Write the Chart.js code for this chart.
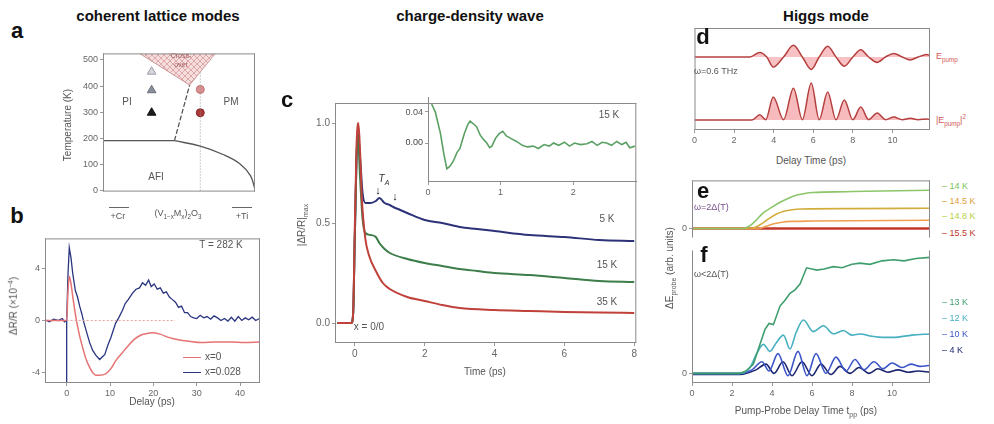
<!DOCTYPE html>
<html>
<head>
<meta charset="utf-8">
<script src="https://cdn.jsdelivr.net/npm/chart.js@4.4.1/dist/chart.umd.min.js"></script>
<style>
  body { margin: 0; width: 994px; height: 424px; background: #fff; position: relative; overflow: hidden;
         font-family: "Liberation Sans", Arial, sans-serif; }
  canvas { position: absolute; }
  .t { position: absolute; white-space: nowrap; color: #555; font-size: 10px; line-height: 1; transform: translate(-50%, -50%); z-index: 5; }
  .l { transform: translate(0, -50%); }
  .rt { transform: translate(-100%, -50%); }
  .r { transform: translate(-50%, -50%) rotate(-90deg); }
  .h { font-weight: bold; color: #111; font-size: 15px; }
  .p { font-weight: bold; color: #111; font-size: 22px; }
  .s { font-size: 9px; }
  .ln { position: absolute; height: 0; }
  sub, sup { font-size: 70%; }
</style>
</head>
<body>
<canvas id="chartA"></canvas>
<canvas id="chartB"></canvas>
<canvas id="chartC"></canvas>
<canvas id="chartInset"></canvas>
<canvas id="chartD"></canvas>
<canvas id="chartE"></canvas>
<canvas id="chartF"></canvas>

<!-- titles and panel letters -->
<div class="t h" style="left:158px;top:15px">coherent lattice modes</div>
<div class="t h" style="left:470px;top:15px">charge-density wave</div>
<div class="t h" style="left:826px;top:15px">Higgs mode</div>
<div class="t p" style="left:17px;top:31px">a</div>
<div class="t p" style="left:17px;top:216px">b</div>
<div class="t p" style="left:287px;top:100px">c</div>
<div class="t p" style="left:703px;top:37px">d</div>
<div class="t p" style="left:703px;top:191px">e</div>
<div class="t p" style="left:704px;top:255px">f</div>

<!-- panel a -->
<div class="t r" style="left:68px;top:125px">Temperature (K)</div>
<div class="t" style="left:127px;top:102px">PI</div>
<div class="t" style="left:231px;top:102px">PM</div>
<div class="t" style="left:156px;top:177px">AFI</div>
<div class="t" style="left:181px;top:55px;font-size:7px;color:#a06060">Cross-</div>
<div class="t" style="left:181px;top:64px;font-size:7px;color:#a06060">over</div>
<div class="ln" style="left:109px;top:207px;width:20px;border-top:1.5px solid #666"></div>
<div class="ln" style="left:232px;top:207px;width:20px;border-top:1.5px solid #666"></div>
<div class="t s" style="left:118px;top:216px">+Cr</div>
<div class="t s" style="left:178px;top:215px">(V<sub>1−x</sub>M<sub>x</sub>)<sub>2</sub>O<sub>3</sub></div>
<div class="t s" style="left:242px;top:216px">+Ti</div>

<!-- panel b -->
<div class="t r" style="left:13px;top:306px">ΔR/R (×10<sup>−4</sup>)</div>
<div class="t" style="left:221px;top:245px">T = 282 K</div>
<div class="ln" style="left:183px;top:357px;width:18px;border-top:1.5px solid #e57373"></div>
<div class="ln" style="left:183px;top:372px;width:18px;border-top:1.5px solid #2a3580"></div>
<div class="t l" style="left:205px;top:357px">x=0</div>
<div class="t l" style="left:205px;top:372px">x=0.028</div>
<div class="t" style="left:152px;top:402px">Delay (ps)</div>

<!-- panel c -->
<div class="t r" style="left:303px;top:225px">|ΔR/R|<sub>max</sub></div>
<div class="t" style="left:485px;top:372px">Time (ps)</div>
<div class="t" style="left:607px;top:219px">5 K</div>
<div class="t" style="left:607px;top:265px">15 K</div>
<div class="t" style="left:607px;top:302px">35 K</div>
<div class="t" style="left:609px;top:115px">15 K</div>
<div class="t" style="left:369px;top:327px">x = 0/0</div>
<div class="t" style="left:384px;top:180px;font-style:italic;color:#333">T<sub>A</sub></div>
<div class="t" style="left:378px;top:190px;color:#111;font-size:11px">↓</div>
<div class="t" style="left:395px;top:196px;color:#111;font-size:11px">↓</div>
<div class="t rt s" style="left:423px;top:112px">0.04</div>
<div class="t rt s" style="left:423px;top:142px;color:#444">0.00</div>

<!-- panel d -->
<div class="t l s" style="left:694px;top:71px">ω=0.6 THz</div>
<div class="t l s" style="left:936px;top:58px;color:#d05a5a">E<sub>pump</sub></div>
<div class="t l s" style="left:936px;top:121px;color:#d05a5a">|E<sub>pump</sub>|<sup>2</sup></div>
<div class="t" style="left:811px;top:161px">Delay Time (ps)</div>

<!-- panel e / f -->
<div class="t r" style="left:671px;top:268px">ΔE<sub>probe</sub> (arb. units)</div>
<div class="t l s" style="left:694px;top:207px;color:#7a4f8c">ω=2Δ(T)</div>
<div class="t l s" style="left:694px;top:274px;color:#555">ω&lt;2Δ(T)</div>
<div class="t l s" style="left:942px;top:186px;color:#7cbf5a">– 14 K</div>
<div class="t l s" style="left:942px;top:201px;color:#e0a040">– 14.5 K</div>
<div class="t l s" style="left:942px;top:216px;color:#b8cf48">– 14.8 K</div>
<div class="t l s" style="left:942px;top:233px;color:#c0392b">– 15.5 K</div>
<div class="t l s" style="left:942px;top:302px;color:#3f9e6e">– 13 K</div>
<div class="t l s" style="left:942px;top:318px;color:#46b0c0">– 12 K</div>
<div class="t l s" style="left:942px;top:334px;color:#3c56c8">– 10 K</div>
<div class="t l s" style="left:942px;top:350px;color:#1c2670">– 4 K</div>
<div class="t" style="left:806px;top:412px">Pump-Probe Delay Time t<sub>pp</sub> (ps)</div>

<script>
// ---------- panel a: phase diagram ----------
const aTempTicks = [0, 100, 200, 300, 400, 500];
const afiTop = [[0, 191], [0.47, 191]];
const piPm = [[0.47, 191], [0.57, 404]];
const afiPm = [[0.47, 191], [0.64, 170], [0.79, 138], [0.9, 103], [0.97, 57], [1.0, 4]];
const crossOver = [[0.24, 525], [0.57, 404], [0.74, 525]];
const dopingLine = [[0.64, 0], [0.64, 525]];
const triangles = [[0.32, 455], [0.32, 384], [0.32, 298]];
const circles = [[0.64, 387], [0.64, 298]];

// ---------- panel b: dR/R vs delay ----------
const bTicksX = [0, 10, 20, 30, 40];
const bTicksY = [-4, 0, 4];
const bPure = [[-5, 0], [-0.2, 0], [0, 0], [0.3, 2.2], [0.6, 3.4], [1.0, 2.8], [1.5, 1.6], [2.2, 0.1], [3.0, -1.2],
  [3.7, -2.1], [4.5, -3.0], [5.3, -3.6], [6.0, -4.0], [6.7, -4.2], [7.5, -4.2], [9.0, -4.1], [10.2, -3.7],
  [11.3, -3.1], [12.8, -2.5], [14.3, -1.9], [15.8, -1.4], [17.3, -1.1], [18.5, -1.0], [19.7, -0.95],
  [21.5, -1.05], [23.5, -1.3], [26, -1.5], [28.2, -1.6], [31, -1.7], [34.4, -1.65], [38, -1.65], [41, -1.7], [44.5, -1.65]];
const bDoped = [[-5, 0.05], [-4, -0.1], [-3, 0.1], [-2, 0.0], [-1, 0.15], [-0.5, -0.1], [0, 0], [0.3, 3.5], [0.6, 5.6],
  [1.0, 4.8], [1.4, 3.6], [2.0, 2.3], [2.5, 1.8], [3.0, 1.1], [3.5, 0.5], [4.0, -0.2], [4.6, -0.9], [5.3, -1.7],
  [6.0, -2.3], [6.8, -2.7], [7.6, -3.0], [8.2, -2.8], [8.8, -2.6], [9.5, -1.9], [10.2, -1.3], [10.6, -0.9],
  [11.3, -0.2], [12.0, 0.2], [12.9, 0.8], [13.5, 1.3], [14.2, 1.6], [15.2, 2.1], [16.0, 2.4], [16.8, 2.5],
  [17.5, 2.9], [18.2, 2.7], [18.9, 3.1], [19.5, 2.6], [20.2, 2.8], [20.9, 2.4], [21.6, 2.5], [22.3, 2.1],
  [23.0, 2.2], [23.7, 1.8], [24.4, 1.6], [25.1, 1.4], [25.8, 1.0], [26.5, 1.1], [27.2, 0.6], [27.9, 0.6],
  [28.6, 0.3], [29.3, 0.2], [30.0, 0.15], [30.8, 0.4], [31.6, 0.2], [32.4, 0.3], [33.2, 0.1], [34.0, 0.35],
  [34.8, 0.2], [35.6, 0.0], [36.4, 0.15], [37.2, -0.05], [38.0, 0.25], [38.8, -0.05], [39.6, 0.3], [40.4, 0.0],
  [41.2, 0.2], [42.0, 0.05], [42.8, 0.25], [43.6, 0.0], [44.5, 0.15]];
const bPumpMark = [[0, -4.8], [0, 0]];
const bZero = [[0, 0], [25, 0]];

// ---------- panel c: CDW ----------
const cTicksX = [0, 2, 4, 6, 8];
const cTicksY = [0, 0.5, 1.0];
const c5K = [[-0.5, 0], [-0.1, 0], [-0.05, 0.05], [0, 0.45], [0.08, 0.95], [0.15, 0.82], [0.22, 0.65], [0.3, 0.6],
  [0.45, 0.6], [0.6, 0.61], [0.7, 0.625], [0.85, 0.6], [1.0, 0.59], [1.1, 0.58], [1.3, 0.565], [1.5, 0.55],
  [2, 0.515], [2.5, 0.5], [3, 0.48], [3.5, 0.47], [4, 0.46], [5, 0.44], [6, 0.43], [7, 0.415], [8, 0.41]];
const c15K = [[-0.5, 0], [-0.1, 0], [-0.05, 0.05], [0, 0.45], [0.08, 0.95], [0.15, 0.72], [0.22, 0.52], [0.3, 0.45],
  [0.45, 0.44], [0.6, 0.43], [0.7, 0.4], [0.85, 0.37], [1.0, 0.35], [1.5, 0.32], [2, 0.3], [2.5, 0.285],
  [3, 0.27], [3.5, 0.26], [4, 0.25], [5, 0.24], [6, 0.225], [7, 0.21], [8, 0.205]];
const c35K = [[-0.5, 0], [-0.1, 0], [-0.05, 0.05], [0, 0.5], [0.05, 0.9], [0.1, 1.0], [0.15, 0.85], [0.2, 0.62],
  [0.3, 0.42], [0.4, 0.34], [0.6, 0.26], [0.8, 0.2], [1.0, 0.17], [1.5, 0.13], [2, 0.11], [2.5, 0.09],
  [3, 0.075], [4, 0.065], [5, 0.06], [6, 0.055], [7, 0.052], [8, 0.05]];
const insetTicksX = [0, 1, 2];
const insetTicksY = [0, 0.04];
const inset15K = [[0.05, 0.05], [0.1, 0.04], [0.17, 0.013], [0.22, -0.015], [0.26, -0.033], [0.3, -0.03],
  [0.35, -0.023], [0.4, -0.012], [0.44, -0.007], [0.5, 0.012], [0.55, 0.024], [0.58, 0.028], [0.62, 0.025],
  [0.67, 0.021], [0.72, 0.01], [0.77, 0.004], [0.81, 0.0], [0.85, -0.006], [0.88, -0.004], [0.93, 0.006],
  [0.98, 0.012], [1.03, 0.015], [1.08, 0.009], [1.14, 0.006], [1.22, 0.002], [1.3, -0.003], [1.37, -0.005],
  [1.45, -0.004], [1.52, -0.007], [1.6, -0.002], [1.67, -0.004], [1.73, 0.0], [1.8, -0.003], [1.88, 0.001],
  [1.95, -0.004], [2.02, 0.0], [2.1, -0.002], [2.19, -0.001], [2.26, 0.002], [2.33, -0.003], [2.4, 0.001],
  [2.46, 0.0], [2.53, -0.003], [2.6, 0.002], [2.67, -0.002], [2.73, 0.001], [2.78, -0.006], [2.85, -0.004]];

// ---------- panel d: pump field ----------
const dTicksX = [0, 2, 4, 6, 8, 10];
const dField = [[0, 0], [2.8, 0], [3.3, 0.37], [3.65, 0], [3.98, -0.8], [4.5, 0], [5.0, 0.93], [5.45, 0],
  [5.9, -1.0], [6.3, 0], [6.73, 0.87], [7.15, 0], [7.57, -0.74], [8.0, 0], [8.4, 0.59], [8.8, 0], [9.23, -0.43],
  [9.65, 0], [10.07, 0.28], [10.5, 0], [10.9, -0.23], [11.3, 0], [11.73, 0.2], [11.9, 0.12]];
const dIntensity = [[0, 0], [2.9, 0], [3.3, 0.14], [3.6, 0.01], [3.98, 0.62], [4.5, 0.01], [5.0, 0.86], [5.45, 0.01],
  [5.9, 1.0], [6.3, 0.01], [6.73, 0.76], [7.15, 0.01], [7.57, 0.54], [8.0, 0.01], [8.4, 0.35], [8.8, 0.01],
  [9.23, 0.19], [9.65, 0.01], [10.07, 0.08], [10.5, 0.01], [10.9, 0.05], [11.3, 0.01], [11.73, 0.03], [11.9, 0.01]];

// ---------- panel e: omega = 2 Delta ----------
const e14K = [[0, 0], [2.5, 0], [3.0, 0.12], [3.55, 0.41], [4.0, 0.57], [4.4, 0.7], [4.8, 0.8], [5.25, 0.89],
  [5.7, 0.94], [6.05, 0.96], [7.7, 0.98], [9.5, 1.0], [11.9, 1.02]];
const e145K = [[0, 0], [2.9, 0], [3.4, 0.1], [3.8, 0.25], [4.2, 0.38], [4.6, 0.46], [5.0, 0.5], [5.5, 0.52], [8, 0.53], [11.9, 0.54]];
const e148K = [[0, 0], [3.3, 0], [3.7, 0.06], [4.1, 0.13], [4.5, 0.17], [5.0, 0.19], [6, 0.2], [11.9, 0.22]];
const e155K = [[0, 0], [11.9, 0]];

// ---------- panel f: omega < 2 Delta ----------
const fTicksX = [0, 2, 4, 6, 8, 10];
const f13K = [[0, 0], [2.4, 0], [2.7, 0.02], [3.07, 0.08], [3.4, 0.25], [3.65, 0.38], [3.85, 0.43], [4.07, 0.42],
  [4.4, 0.58], [4.65, 0.63], [4.9, 0.69], [5.15, 0.72], [5.4, 0.77], [5.73, 0.91], [6.0, 0.9], [6.23, 0.89],
  [6.6, 0.9], [7.07, 0.92], [7.5, 0.91], [8.0, 0.94], [8.4, 0.95], [8.9, 0.94], [9.5, 0.97], [10.07, 0.98],
  [10.6, 0.97], [11.2, 0.99], [11.9, 1.0]];
const f12K = [[0, 0], [2.4, 0], [2.9, 0.05], [3.23, 0.17], [3.57, 0.25], [3.9, 0.19], [4.2, 0.26], [4.57, 0.33],
  [4.9, 0.21], [5.2, 0.35], [5.57, 0.46], [6.07, 0.36], [6.57, 0.41], [7.07, 0.34], [7.57, 0.37], [8.0, 0.33],
  [8.4, 0.34], [9.0, 0.32], [9.6, 0.31], [10.07, 0.31], [11.0, 0.33], [11.9, 0.34]];
const f10K = [[0, 0], [2.4, 0], [3.0, 0.03], [3.5, 0.1], [3.85, 0.02], [4.3, 0.17], [4.8, -0.02], [5.3, 0.19],
  [5.75, -0.02], [6.2, 0.17], [6.7, 0.0], [7.2, 0.14], [7.7, 0.02], [8.15, 0.12], [8.6, 0.03], [9.1, 0.1],
  [9.55, 0.04], [10.0, 0.09], [10.5, 0.05], [10.95, 0.08], [11.4, 0.06], [11.9, 0.07]];
const f4K = [[0, -0.01], [2.4, -0.01], [3.2, 0.03], [3.7, 0.08], [4.1, 0.0], [4.55, 0.1], [5.0, -0.02], [5.5, 0.1],
  [6.0, -0.02], [6.45, 0.08], [6.95, -0.01], [7.4, 0.06], [7.9, 0.0], [8.35, 0.05], [8.85, 0.0], [9.3, 0.04],
  [9.8, 0.01], [10.3, 0.03], [10.8, 0.01], [11.3, 0.02], [11.9, 0.01]];

// ---------- helpers ----------
Chart.defaults.font.family = '"Liberation Sans", Arial, sans-serif';
Chart.defaults.font.size = 9;
Chart.defaults.color = '#666';

const pts = arr => arr.map(p => ({ x: p[0], y: p[1] }));

const frame = {
  id: 'frame',
  afterDraw(chart, args, o) {
    const ctx = chart.ctx, a = chart.chartArea;
    const s = o.sides || 'tlbr';
    ctx.save();
    ctx.strokeStyle = o.color || '#8a8a8a';
    ctx.lineWidth = 1;
    ctx.beginPath();
    if (s.includes('t')) { ctx.moveTo(a.left, a.top + 0.5); ctx.lineTo(a.right, a.top + 0.5); }
    if (s.includes('b')) { ctx.moveTo(a.left, a.bottom - 0.5); ctx.lineTo(a.right, a.bottom - 0.5); }
    if (s.includes('l')) { ctx.moveTo(a.left + 0.5, a.top); ctx.lineTo(a.left + 0.5, a.bottom); }
    if (s.includes('r')) { ctx.moveTo(a.right - 0.5, a.top); ctx.lineTo(a.right - 0.5, a.bottom); }
    ctx.stroke();
    ctx.restore();
  }
};

function fixedTicks(list, fmt) {
  return {
    afterBuildTicks: s => { s.ticks = list.map(v => ({ value: v })); },
    ticks: { callback: v => fmt ? fmt(v) : String(v), padding: 2, autoSkip: false },
    grid: { drawOnChartArea: false, tickLength: 3, color: '#999' },
    border: { display: false }
  };
}

function noTicks() {
  return { ticks: { display: false }, grid: { display: false }, border: { display: false } };
}

// box = [left, top, width, height] of plot area, yw/xh = space kept for axes
function makeChart(id, box, yw, xh, datasets, scales, sides) {
  const [L, T, W, H] = box;
  const pt = 2, pr = 2;
  const cv = document.getElementById(id);
  cv.width = W + yw + pr;
  cv.height = H + xh + pt;
  cv.style.left = (L - yw) + 'px';
  cv.style.top = (T - pt) + 'px';
  scales.x.afterFit = s => { s.height = xh; };
  scales.y.afterFit = s => { s.width = yw; };
  return new Chart(cv, {
    type: 'line',
    data: { datasets: datasets },
    options: {
      responsive: false,
      animation: false,
      layout: { padding: { top: pt, right: pr, left: 0, bottom: 0 }, autoPadding: false },
      plugins: { legend: { display: false }, tooltip: { enabled: false }, frame: { sides: sides } },
      elements: { point: { radius: 0 } },
      scales: scales
    },
    plugins: [frame]
  });
}

function line(data, color, width, extra) {
  return Object.assign({ data: pts(data), borderColor: color, borderWidth: width, pointRadius: 0, fill: false }, extra || {});
}

function hatch() {
  const p = document.createElement('canvas');
  p.width = 6; p.height = 6;
  const g = p.getContext('2d');
  g.fillStyle = '#f6dede';
  g.fillRect(0, 0, 6, 6);
  g.strokeStyle = '#d79a9a';
  g.lineWidth = 0.8;
  g.beginPath();
  g.moveTo(0, 6); g.lineTo(6, 0);
  g.moveTo(0, 0); g.lineTo(6, 6);
  g.stroke();
  return g.createPattern(p, 'repeat');
}

// ---------- panel a ----------
makeChart('chartA', [103, 48, 152, 149], 44, 2, [
  line(crossOver, '#c99', 1, { fill: 'end', backgroundColor: hatch() }),
  line(dopingLine, '#999', 1, { borderDash: [1, 2] }),
  line(afiTop, '#555', 1.3),
  line(piPm, '#555', 1.3, { borderDash: [5, 2] }),
  line(afiPm, '#555', 1.3, { tension: 0.4 }),
  { data: pts(triangles), showLine: false, pointStyle: 'triangle', pointRadius: 5,
    pointBackgroundColor: ['#d4d6da', '#8a9099', '#1c1c1c'], pointBorderColor: ['#9aa0a8', '#6a707a', '#111'], pointBorderWidth: 1 },
  { data: pts(circles), showLine: false, pointStyle: 'circle', pointRadius: 4,
    pointBackgroundColor: ['#d99090', '#a83838'], pointBorderColor: ['#c07070', '#8a2a2a'], pointBorderWidth: 1 }
], {
  x: Object.assign(noTicks(), { type: 'linear', min: 0, max: 1 }),
  y: Object.assign(fixedTicks(aTempTicks), { type: 'linear', min: -4, max: 525 })
}, 'tlbr');

// ---------- panel b ----------
makeChart('chartB', [45, 233, 215, 150], 45, 26, [
  line(bZero, '#e8a0a0', 1, { borderDash: [2, 2] }),
  line(bPumpMark, '#2a3580', 1.3),
  line(bPure, '#e57373', 1.5, { cubicInterpolationMode: 'monotone' }),
  line(bDoped, '#2a3580', 1.3)
], {
  x: Object.assign(fixedTicks(bTicksX), { type: 'linear', min: -5, max: 44.6 }),
  y: Object.assign(fixedTicks(bTicksY), { type: 'linear', min: -4.8, max: 6.3 })
}, 'tlbr');

// ---------- panel c ----------
const c10 = { family: '"Liberation Sans", Arial, sans-serif', size: 10 };
const cx = Object.assign(fixedTicks(cTicksX), { type: 'linear', min: -0.57, max: 8.06 });
const cy = Object.assign(fixedTicks(cTicksY, v => v.toFixed(1)), { type: 'linear', min: -0.1, max: 1.1 });
cx.ticks.font = c10; cy.ticks.font = c10;
makeChart('chartC', [335, 97, 302, 246], 45, 40, [
  line(c35K, '#c0403a', 2, { cubicInterpolationMode: 'monotone' }),
  line(c15K, '#3c7d4a', 2, { cubicInterpolationMode: 'monotone' }),
  line(c5K, '#2c3278', 2, { cubicInterpolationMode: 'monotone' })
], { x: cx, y: cy }, 'tlbr');

// inset: tick marks from the scale, tick labels as page text
const insetY = Object.assign(fixedTicks(insetTicksY), { type: 'linear', min: -0.05, max: 0.059 });
insetY.ticks.display = false;
makeChart('chartInset', [428, 97, 209, 85], 30, 14, [
  line(inset15K, '#5aa063', 1.6)
], {
  x: Object.assign(fixedTicks(insetTicksX), { type: 'linear', min: 0, max: 2.88 }),
  y: insetY
}, 'lb');

// ---------- panel d ----------
makeChart('chartD', [692, 28, 238, 102], 2, 18, [
  line(dField, '#b5403f', 1.5, { yAxisID: 'y', cubicInterpolationMode: 'monotone', fill: 'origin', backgroundColor: 'rgba(240,120,125,0.45)' }),
  line(dIntensity, '#b5403f', 1.5, { yAxisID: 'yI', cubicInterpolationMode: 'monotone', fill: 'origin', backgroundColor: 'rgba(240,120,125,0.5)' })
], {
  x: Object.assign(fixedTicks(dTicksX), { type: 'linear', min: 0, max: 11.9 }),
  y: Object.assign(noTicks(), { type: 'linear', min: -5.84, max: 2.32 }),
  yI: Object.assign(noTicks(), { type: 'linear', min: -0.27, max: 2.49, display: false })
}, 'tlbr');

// ---------- panel e ----------
makeChart('chartE', [692, 175, 238, 70], 14, 0, [
  line(e14K, '#8cc66a', 1.6, { cubicInterpolationMode: 'monotone' }),
  line(e145K, '#d2ad3c', 1.6, { cubicInterpolationMode: 'monotone' }),
  line(e148K, '#f0a050', 1.6, { cubicInterpolationMode: 'monotone' }),
  line(e155K, '#c0392b', 2.5)
], {
  x: Object.assign(noTicks(), { type: 'linear', min: 0, max: 11.9 }),
  y: Object.assign(fixedTicks([0]), { type: 'linear', min: -0.24, max: 1.28 })
}, 'tlr');

// ---------- panel f ----------
makeChart('chartF', [692, 245, 238, 138], 14, 20, [
  line(f13K, '#3f9e6e', 1.6),
  line(f12K, '#46b0c0', 1.6, { cubicInterpolationMode: 'monotone' }),
  line(f10K, '#3c56c8', 1.6, { cubicInterpolationMode: 'monotone' }),
  line(f4K, '#1c2670', 1.6, { cubicInterpolationMode: 'monotone' })
], {
  x: Object.assign(fixedTicks(fTicksX), { type: 'linear', min: 0, max: 11.9 }),
  y: Object.assign(fixedTicks([0]), { type: 'linear', min: -0.083, max: 1.06 })
}, 'lbr');
</script>
</body>
</html>
